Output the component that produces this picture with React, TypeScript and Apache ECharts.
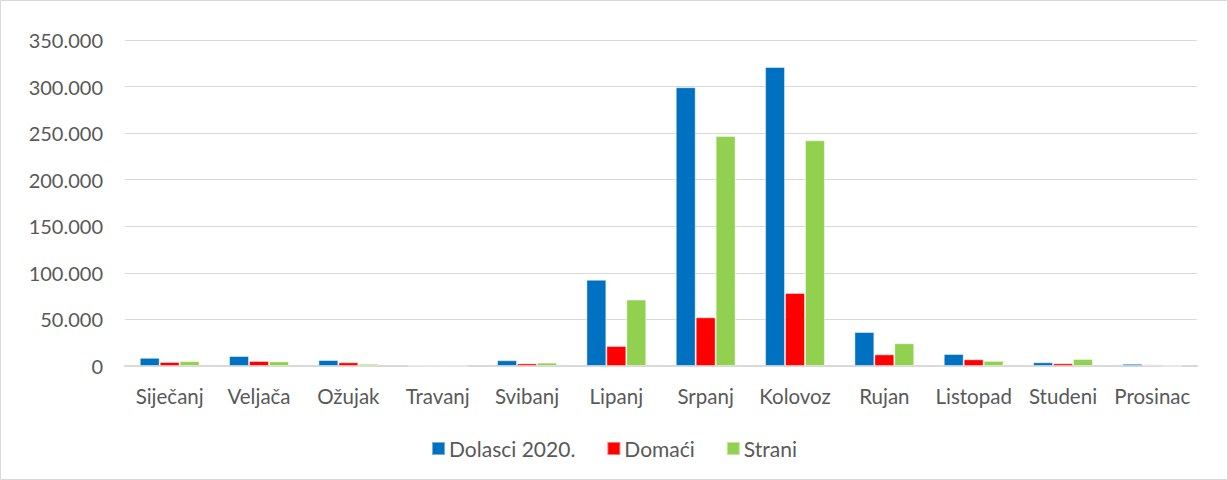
import React, { useEffect, useRef } from "react";
import * as echarts from "echarts";

const categories = ["Siječanj", "Veljača", "Ožujak", "Travanj", "Svibanj", "Lipanj", "Srpanj", "Kolovoz", "Rujan", "Listopad", "Studeni", "Prosinac"];
const dolasci = [8800, 10700, 6400, 200, 6200, 92600, 299300, 321000, 36500, 12900, 4000, 2400];
const domaci = [4300, 5400, 4000, 100, 2800, 21500, 52300, 78400, 12500, 7200, 2900, 1800];
const strani = [5200, 5000, 2400, 100, 3600, 71300, 247000, 242300, 24400, 5500, 7500, 0];

const fmt = (v: number) => {
  if (v === 0) return "0";
  const s = String(Math.round(v));
  return s.replace(/\B(?=(\d{3})+(?!\d))/g, ".");
};

export default function App() {
  const ref = useRef<HTMLDivElement>(null);
  useEffect(() => {
    if (!ref.current) return;
    const chart = echarts.init(ref.current, null, { renderer: "svg" });
    const font = "Lato, 'Open Sans', sans-serif";
    const border = { borderColor: "rgba(255,255,255,0.45)", borderWidth: 1 };
    chart.setOption({
      animation: false,
      textStyle: { fontFamily: font },
      graphic: [
        {
          type: "rect",
          shape: { x: 0.5, y: 0.5, width: 1227, height: 479 },
          style: { fill: "none", stroke: "#d9d9d9", lineWidth: 1 },
          silent: true,
        },
      ],
      grid: { left: 125, right: 31, top: 40, bottom: 114, containLabel: false },
      legend: {
        bottom: 16,
        left: "center",
        itemWidth: 13,
        itemHeight: 13,
        itemGap: 31,
        icon: "rect",
        textStyle: { fontSize: 21, color: "#595959", fontFamily: font, padding: [0, 0, 0, -1] },
        data: ["Dolasci 2020.", "Domaći", "Strani"],
      },
      xAxis: {
        type: "category",
        data: categories,
        axisLine: { lineStyle: { color: "#d9d9d9", width: 2 } },
        axisTick: { show: false },
        axisLabel: { fontSize: 20.5, color: "#595959", margin: 19, fontFamily: font, interval: 0, hideOverlap: false },
      },
      yAxis: {
        type: "value",
        min: 0,
        max: 350000,
        interval: 50000,
        axisLine: { show: false },
        axisTick: { show: false },
        splitLine: { lineStyle: { color: "#d9d9d9", width: 1 } },
        axisLabel: { fontSize: 20, color: "#595959", margin: 22, fontFamily: font, formatter: fmt },
      },
      series: [
        {
          name: "Dolasci 2020.",
          type: "bar",
          data: dolasci,
          itemStyle: { color: "#0070c0", ...border },
          barGap: "0%",
          barCategoryGap: "33%",
        },
        {
          name: "Domaći",
          type: "bar",
          data: domaci.map((v, i) =>
            i === 11 ? { value: v, itemStyle: { color: "#f4a6a6" } } : v
          ),
          itemStyle: { color: "#ff0000", ...border },
        },
        {
          name: "Strani",
          type: "bar",
          data: strani,
          itemStyle: { color: "#92d050", ...border },
        },
      ],
    });
    return () => chart.dispose();
  }, []);
  return (
    <div
      ref={ref}
      style={{ position: "absolute", left: 0, top: 0, width: 1228, height: 480 }}
    />
  );
}
